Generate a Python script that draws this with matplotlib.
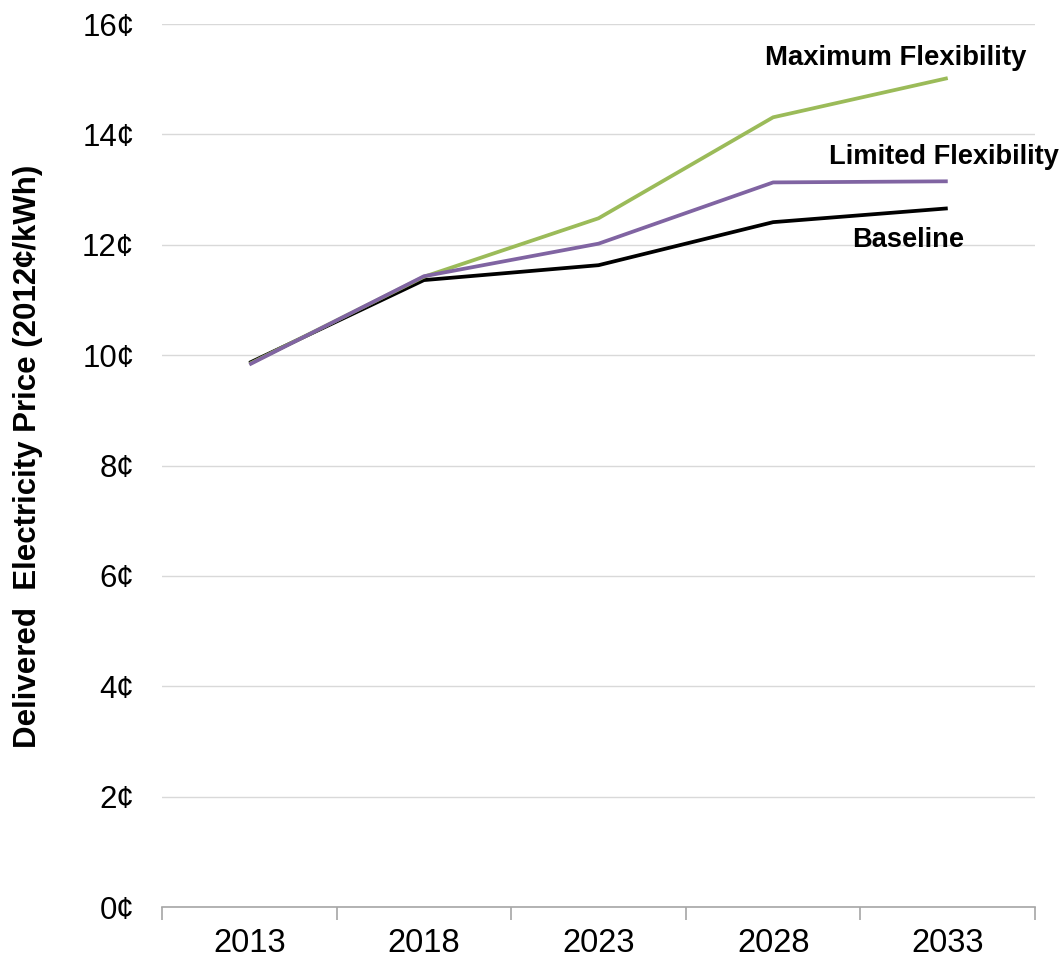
import matplotlib

matplotlib.use("Agg")
import matplotlib.pyplot as plt

YEARS = ["2013", "2018", "2023", "2028", "2033"]
BASELINE = [9.86, 11.36, 11.63, 12.41, 12.66]
LIMITED = [9.83, 11.43, 12.02, 13.13, 13.15]
MAXIMUM = [9.84, 11.42, 12.48, 14.31, 15.02]
Y_TICKS = [0, 2, 4, 6, 8, 10, 12, 14, 16]

plt.rcParams["font.family"] = ["Liberation Sans", "DejaVu Sans"]

fig = plt.figure(figsize=(10.63, 9.57), dpi=100)
ax = fig.add_axes([0.1524, 0.0522, 0.8213, 0.9227])

x = list(range(len(YEARS)))
ax.plot(x, BASELINE, color="black", lw=2.7, solid_capstyle="butt")
ax.plot(x, MAXIMUM, color="#9BBB59", lw=2.7, solid_capstyle="butt")
ax.plot(x, LIMITED, color="#8064A2", lw=2.7, solid_capstyle="butt")

ax.set_xlim(-0.5, len(YEARS) - 0.5)
ax.set_ylim(0, 16)
ax.set_yticks(Y_TICKS)
ax.set_yticklabels([f"{v}¢" for v in Y_TICKS], fontsize=22.5)
ax.tick_params(axis="y", length=0, pad=20)
ax.yaxis.grid(True, color="#d9d9d9", lw=1)
ax.set_axisbelow(True)

ax.set_xticks(x)
ax.set_xticklabels(YEARS, fontsize=23.5)
ax.set_xticks([i - 0.5 for i in range(len(YEARS) + 1)], minor=True)
ax.tick_params(axis="x", which="major", length=0, pad=15)
ax.tick_params(axis="x", which="minor", length=9, color="#a6a6a6", width=1.2, direction="out")

for side in ["top", "right", "left"]:
    ax.spines[side].set_visible(False)
ax.spines["bottom"].set_color("#a6a6a6")
ax.spines["bottom"].set_linewidth(1.2)

fig.text(28.5 / 1063, 1 - 456 / 957, "Delivered  Electricity Price (2012¢/kWh)",
         fontsize=22.5, fontweight="bold", rotation=90, ha="center", va="center")

ax.text(3.70, 15.38, "Maximum Flexibility", fontsize=19.8, fontweight="bold", ha="center", va="center", clip_on=False)
ax.text(3.32, 13.59, "Limited Flexibility", fontsize=19.6, fontweight="bold", ha="left", va="center", clip_on=False)
ax.text(3.45, 12.08, "Baseline", fontsize=19.6, fontweight="bold", ha="left", va="center", clip_on=False)

fig.savefig("out.png", dpi=100)
